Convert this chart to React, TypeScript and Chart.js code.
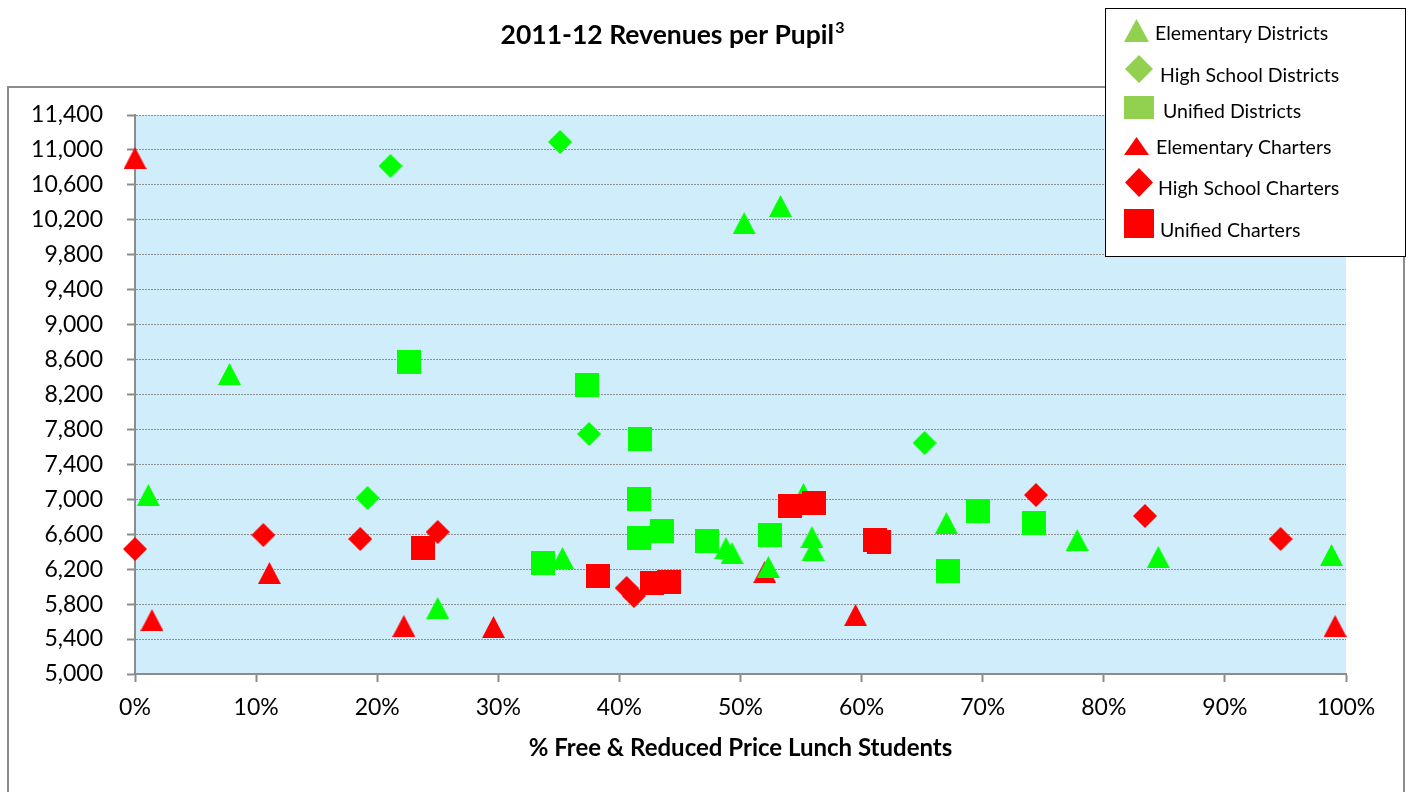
import { useEffect, useRef } from 'react';
import { Chart, registerables } from 'chart.js';

Chart.register(...registerables);

const FONT = 'Lato, "Open Sans", sans-serif';

// ---- Data (x = % Free & Reduced Price Lunch, y = revenue per pupil) ----
const elemDistPct = [1.1, 7.8, 25.0, 35.3, 50.3, 53.3, 48.8, 49.3, 52.3, 55.2, 55.9, 56.0, 67.0, 77.8, 84.5, 98.8];
const elemDistRev = [7049, 8435, 5756, 6328, 10163, 10358, 6443, 6385, 6225, 7061, 6568, 6420, 6729, 6534, 6340, 6362];

const hsDistPct = [21.1, 35.1, 19.2, 37.5, 65.2];
const hsDistRev = [10816, 11091, 7015, 7748, 7645];

const unifDistPct = [22.6, 37.3, 41.7, 41.6, 41.6, 43.5, 33.7, 47.2, 52.4, 69.6, 67.1, 74.2];
const unifDistRev = [8572, 8309, 7690, 7004, 6557, 6637, 6271, 6523, 6591, 6866, 6179, 6729];

const elemChartPct = [0.0, 1.4, 11.1, 22.2, 29.6, 52.0, 59.5, 99.1];
const elemChartRev = [10908, 5618, 6156, 5550, 5538, 6168, 5675, 5550];

const hsChartPct = [0.0, 10.6, 18.6, 25.0, 40.6, 41.2, 74.4, 83.4, 94.6];
const hsChartRev = [6431, 6591, 6546, 6626, 5985, 5893, 7049, 6809, 6546];

const unifChartPct = [23.8, 38.2, 42.7, 44.1, 54.1, 56.1, 61.1, 61.4];
const unifChartRev = [6443, 6122, 6042, 6053, 6923, 6958, 6534, 6511];

const seriesNames = [
  'Elementary Districts',
  'High School Districts',
  'Unified Districts',
  'Elementary Charters',
  'High School Charters',
  'Unified Charters',
];

const Y_MIN = 5000;
const Y_MAX = 11400;
const Y_STEP = 400;
const X_MIN = 0;
const X_MAX = 100;
const X_STEP = 10;

const TITLE = '2011-12 Revenues per Pupil';
const TITLE_SUP = '3';
const X_TITLE = '% Free & Reduced Price Lunch Students';

const GREEN = '#00FF00';
const RED = '#FF0000';
const LEGEND_GREEN = '#92D050';
const PLOT_BG = 'rgb(208,237,252)';
const AXIS_GREY = '#8c8c8c';

function zip(xs: number[], ys: number[]) {
  return xs.map((x, i) => ({ x, y: ys[i] }));
}

function marker(shape: string, color: string, w: number, h: number) {
  const c = document.createElement('canvas');
  c.width = w;
  c.height = h;
  const g = c.getContext('2d')!;
  g.fillStyle = color;
  g.beginPath();
  if (shape === 'triangle') {
    g.moveTo(w / 2, 0);
    g.lineTo(w, h);
    g.lineTo(0, h);
  } else if (shape === 'diamond') {
    g.moveTo(w / 2, 0);
    g.lineTo(w, h / 2);
    g.lineTo(w / 2, h);
    g.lineTo(0, h / 2);
  } else {
    g.rect(0, 0, w, h);
  }
  g.closePath();
  g.fill();
  return c;
}

function drawShape(ctx: CanvasRenderingContext2D, shape: string, color: string, x0: number, y0: number, x1: number, y1: number) {
  ctx.fillStyle = color;
  ctx.beginPath();
  if (shape === 'triangle') {
    ctx.moveTo((x0 + x1) / 2, y0);
    ctx.lineTo(x1, y1);
    ctx.lineTo(x0, y1);
  } else if (shape === 'diamond') {
    const cx = (x0 + x1) / 2;
    const cy = (y0 + y1) / 2;
    ctx.moveTo(cx, y0);
    ctx.lineTo(x1, cy);
    ctx.lineTo(cx, y1);
    ctx.lineTo(x0, cy);
  } else {
    ctx.rect(x0, y0, x1 - x0, y1 - y0);
  }
  ctx.closePath();
  ctx.fill();
}

const decorPlugin = {
  id: 'decor',
  beforeDraw(chart: any) {
    const { ctx, chartArea: a } = chart;
    ctx.save();
    ctx.fillStyle = '#ffffff';
    ctx.fillRect(0, 0, chart.width, chart.height);
    // outer chart frame
    ctx.strokeStyle = AXIS_GREY;
    ctx.lineWidth = 2;
    ctx.strokeRect(8, 87, 1396, 740);
    // plot background
    ctx.fillStyle = PLOT_BG;
    ctx.fillRect(a.left, a.top, a.right - a.left, a.bottom - a.top);
    // title
    ctx.fillStyle = '#000';
    ctx.font = `bold 26.5px ${FONT}`;
    ctx.textBaseline = 'alphabetic';
    const mainW = ctx.measureText(TITLE).width;
    ctx.font = `bold 16px ${FONT}`;
    const supW = ctx.measureText(TITLE_SUP).width;
    const startX = 672 - (mainW + supW) / 2;
    ctx.font = `bold 26.5px ${FONT}`;
    ctx.textAlign = 'left';
    ctx.fillText(TITLE, startX, 44);
    ctx.font = `bold 16px ${FONT}`;
    ctx.fillText(TITLE_SUP, startX + mainW + 1, 33);
    ctx.restore();
  },
  afterDraw(chart: any) {
    const { ctx } = chart;
    ctx.save();
    // legend box
    ctx.fillStyle = '#ffffff';
    ctx.fillRect(1105.5, 8.5, 300, 248);
    ctx.strokeStyle = '#000';
    ctx.lineWidth = 1;
    ctx.strokeRect(1105.5, 8.5, 300, 248);
    const items = [
      { shape: 'triangle', color: LEGEND_GREEN, box: [1124, 19, 1149, 42], tx: 1155, ty: 34 },
      { shape: 'diamond', color: LEGEND_GREEN, box: [1125, 55, 1153, 83], tx: 1160, ty: 76 },
      { shape: 'square', color: LEGEND_GREEN, box: [1124, 96, 1154, 119], tx: 1163, ty: 112 },
      { shape: 'triangle', color: RED, box: [1124, 137, 1149, 155], tx: 1156, ty: 148 },
      { shape: 'diamond', color: RED, box: [1125, 168, 1153, 197], tx: 1158, ty: 189 },
      { shape: 'square', color: RED, box: [1124, 209, 1154, 238], tx: 1160, ty: 231 },
    ];
    ctx.font = `19.5px ${FONT}`;
    ctx.textAlign = 'left';
    ctx.textBaseline = 'middle';
    items.forEach((it, i) => {
      const [x0, y0, x1, y1] = it.box;
      drawShape(ctx, it.shape, it.color, x0, y0, x1, y1);
      ctx.fillStyle = '#000';
      ctx.fillText(seriesNames[i], it.tx, it.ty);
    });
    ctx.restore();
  },
};

export default function App() {
  const ref = useRef<HTMLCanvasElement | null>(null);

  useEffect(() => {
    const canvas = ref.current;
    if (!canvas) return;
    const tri = marker('triangle', GREEN, 23, 22);
    const dia = marker('diamond', GREEN, 24, 24);
    const sq = marker('square', GREEN, 24, 24);
    const triR = marker('triangle', RED, 23, 22);
    const diaR = marker('diamond', RED, 24, 24);
    const sqR = marker('square', RED, 24, 24);

    const mk = (label: string, data: any[], style: any, order: number) => ({
      label,
      data,
      pointStyle: style,
      pointRadius: 12,
      pointHoverRadius: 12,
      showLine: false,
      clip: false,
      order,
      backgroundColor: 'transparent',
      borderColor: 'transparent',
    });

    const chart = new Chart(canvas, {
      type: 'scatter',
      data: {
        datasets: [
          mk(seriesNames[0], zip(elemDistPct, elemDistRev), tri, 3),
          mk(seriesNames[1], zip(hsDistPct, hsDistRev), dia, 2),
          mk(seriesNames[2], zip(unifDistPct, unifDistRev), sq, 4),
          mk(seriesNames[3], zip(elemChartPct, elemChartRev), triR, 5),
          mk(seriesNames[4], zip(hsChartPct, hsChartRev), diaR, 0),
          mk(seriesNames[5], zip(unifChartPct, unifChartRev), sqR, 1),
        ] as any,
      },
      options: {
        responsive: false,
        animation: false,
        events: [],
        layout: { padding: { top: 115, right: 64, left: 0, bottom: 0 } },
        plugins: {
          legend: { display: false },
          title: { display: false },
          tooltip: { enabled: false },
        },
        scales: {
          x: {
            type: 'linear',
            min: X_MIN,
            max: X_MAX,
            afterFit: (s: any) => {
              s.height = 118;
            },
            ticks: {
              stepSize: X_STEP,
              padding: 12,
              color: '#000',
              font: { family: FONT, size: 23 },
              callback: (v: any) => `${Math.round(Number(v))}%`,
            },
            grid: {
              drawOnChartArea: false,
              drawTicks: true,
              tickLength: 8,
              tickColor: AXIS_GREY,
              tickWidth: 2,
            },
            border: { display: true, color: AXIS_GREY, width: 2 },
            title: {
              display: true,
              text: X_TITLE,
              color: '#000',
              font: { family: FONT, size: 24, weight: 'bold' },
              padding: { top: 0, bottom: 29 },
            },
          },
          y: {
            type: 'linear',
            min: Y_MIN,
            max: Y_MAX,
            afterFit: (s: any) => {
              s.width = 135;
            },
            ticks: {
              stepSize: Y_STEP,
              padding: 24,
              color: '#000',
              font: { family: FONT, size: 23 },
              callback: (v: any) => Number(v).toLocaleString('en-US'),
            },
            grid: {
              drawOnChartArea: true,
              drawTicks: true,
              tickLength: 8,
              color: '#8f8f8f',
              lineWidth: 1,
              tickColor: AXIS_GREY,
              tickWidth: 2,
              tickBorderDash: [],
            },
            border: { display: true, color: AXIS_GREY, width: 2, dash: [2, 1] },
          },
        },
      },
      plugins: [decorPlugin],
    } as any);

    return () => {
      chart.destroy();
    };
  }, []);

  return (
    <div style={{ position: 'fixed', left: 0, top: 0, width: 1410, height: 792 }}>
      <canvas ref={ref} width={1410} height={792} style={{ display: 'block' }} />
    </div>
  );
}
